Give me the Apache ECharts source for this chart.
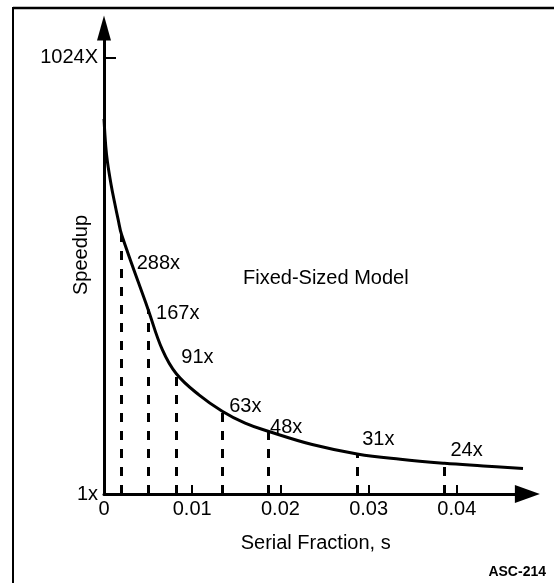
<!DOCTYPE html>
<html>
<head>
<meta charset="utf-8">
<title>Fixed-Sized Model speedup</title>
<script src="https://cdn.jsdelivr.net/npm/echarts@6/dist/echarts.min.js"></script>
<style>
  html, body { margin: 0; padding: 0; background: #fff; }
  #chart { width: 554px; height: 583px; }
</style>
</head>
<body>
<div id="chart"></div>
<script>
// Speedup curve of the fixed-sized model against the serial fraction s
const curveS       = [0, 0.0002, 0.0004, 0.0008, 0.0012, 0.0016, 0.0020, 0.0050, 0.0066, 0.0082, 0.0108, 0.0134, 0.0160, 0.0186, 0.0236, 0.0287, 0.0336, 0.0386, 0.0430, 0.0475];
const curveSpeedup = [770, 655, 587, 495, 419, 348, 288, 167, 120, 91, 75, 63, 54, 48, 38, 31, 27, 24, 22, 20];

// Marked points (dashed drop lines with their speedup labels)
const markS       = [0.0020, 0.0050, 0.0082, 0.0134, 0.0186, 0.0287, 0.0386];
const markSpeedup = [288, 167, 91, 63, 48, 31, 24];

// Axis ticks
const xTickValues = [0, 0.01, 0.02, 0.03, 0.04];
const xTickLabels = ['0', '0.01', '0.02', '0.03', '0.04'];
const yTickValues = [1, 1024];
const yTickLabels = ['1x', '1024X'];

// Label placement next to each marked point (px)
const markLabelOffsets = [[15, 29], [8, 4], [5, -16], [7, -5], [2, -4], [5, -14], [6, -13]];

const FONT = "'Liberation Sans', Arial, Helvetica, sans-serif";
const INK = '#000';

function pickLabel(values, labels, v) {
  for (let i = 0; i < values.length; i++) {
    if (Math.abs(values[i] - v) < 1e-9) return labels[i];
  }
  return '';
}

const chart = echarts.init(document.getElementById('chart'), null, { renderer: 'canvas' });

const curveData = curveS.map((s, i) => [s, curveSpeedup[i]]);
const markData = markS.map((s, i) => ({
  value: [s, markSpeedup[i]],
  label: { offset: markLabelOffsets[i] }
}));
const dropLines = markS.map((s, i) => [{ coord: [s, 1] }, { coord: [s, markSpeedup[i]] }]);

chart.setOption({
  animation: false,
  backgroundColor: '#fff',
  textStyle: { fontFamily: FONT, color: INK },
  grid: { left: 104, right: 26.6, top: 28, bottom: 89, containLabel: false },
  xAxis: {
    type: 'value',
    min: 0,
    max: 0.048,
    axisLine: {
      show: true,
      onZero: false,
      symbol: ['none', 'triangle'],
      symbolSize: [18, 25],
      lineStyle: { color: INK, width: 3 }
    },
    axisTick: {
      show: true,
      inside: true,
      length: 9,
      customValues: [0.01, 0.02, 0.03, 0.04],
      lineStyle: { color: INK, width: 2 }
    },
    axisLabel: {
      customValues: xTickValues,
      formatter: (v) => pickLabel(xTickValues, xTickLabels, v),
      fontFamily: FONT,
      fontSize: 20,
      color: INK,
      margin: 5
    },
    splitLine: { show: false },
    name: 'Serial Fraction, s',
    nameLocation: 'middle',
    nameGap: 39,
    nameTextStyle: { fontFamily: FONT, fontSize: 20, color: INK }
  },
  yAxis: [
    {
      // speedup scale: compressed through the upper range
      type: 'value',
      min: 1,
      max: 1046,
      breaks: [
        { start: 91, end: 166, gap: '13.52%' },
        { start: 168, end: 287, gap: '15.45%' },
        { start: 289, end: 1023, gap: '37.49%' }
      ],
      breakArea: {
        show: false,
        expandOnClick: false,
        zigzagAmplitude: 0,
        itemStyle: { color: 'rgba(0,0,0,0)', borderWidth: 0, opacity: 0 }
      },
      axisLine: { show: false },
      axisTick: {
        show: true,
        inside: true,
        length: 12,
        customValues: [1024],
        lineStyle: { color: INK, width: 2 }
      },
      axisLabel: {
        customValues: yTickValues,
        formatter: (v) => pickLabel(yTickValues, yTickLabels, v),
        fontFamily: FONT,
        fontSize: 20,
        color: INK,
        margin: 6
      },
      splitLine: { show: false },
      name: 'Speedup',
      nameLocation: 'middle',
      nameGap: 13,
      nameRotate: 90,
      nameMoveOverlap: false,
      nameTextStyle: { fontFamily: FONT, fontSize: 20, color: INK, padding: [0, 0, 0, 12] }
    },
    {
      // continuous vertical axis line with its arrow head
      type: 'value',
      min: 0,
      max: 1,
      position: 'left',
      axisLine: {
        show: true,
        onZero: false,
        symbol: ['none', 'triangle'],
        symbolSize: [14, 25],
        lineStyle: { color: INK, width: 3 }
      },
      axisTick: { show: false },
      axisLabel: { show: false },
      splitLine: { show: false }
    }
  ],
  series: [
    {
      name: 'Fixed-Sized Model',
      type: 'line',
      data: curveData,
      smooth: 0.4,
      showSymbol: false,
      symbol: 'none',
      lineStyle: { color: INK, width: 3 },
      silent: true,
      z: 3
    },
    {
      name: 'marks',
      type: 'scatter',
      data: markData,
      symbolSize: 0,
      itemStyle: { opacity: 1, color: INK },
      silent: true,
      label: {
        show: true,
        position: 'right',
        distance: 0,
        formatter: (p) => p.value[1] + 'x',
        fontFamily: FONT,
        fontSize: 20,
        color: INK,
        opacity: 1
      },
      markLine: {
        silent: true,
        symbol: ['none', 'none'],
        label: { show: false },
        lineStyle: { color: INK, width: 3, type: [9, 9], opacity: 1 },
        data: dropLines
      },
      z: 2
    }
  ],
  graphic: [
    // sheet border (left and top edges)
    { type: 'line', shape: { x1: 13, y1: 7, x2: 13, y2: 583 }, style: { stroke: INK, lineWidth: 2 } },
    { type: 'line', shape: { x1: 13, y1: 8, x2: 554, y2: 8 }, style: { stroke: INK, lineWidth: 2.5 } },
    {
      type: 'text', left: 243, top: 268,
      style: { text: 'Fixed-Sized Model', font: "20px " + FONT, fill: INK }
    },
    {
      type: 'text', right: 8, top: 565,
      style: { text: 'ASC-214', font: "bold 14px " + FONT, fill: INK }
    }
  ]
});
</script>
</body>
</html>
